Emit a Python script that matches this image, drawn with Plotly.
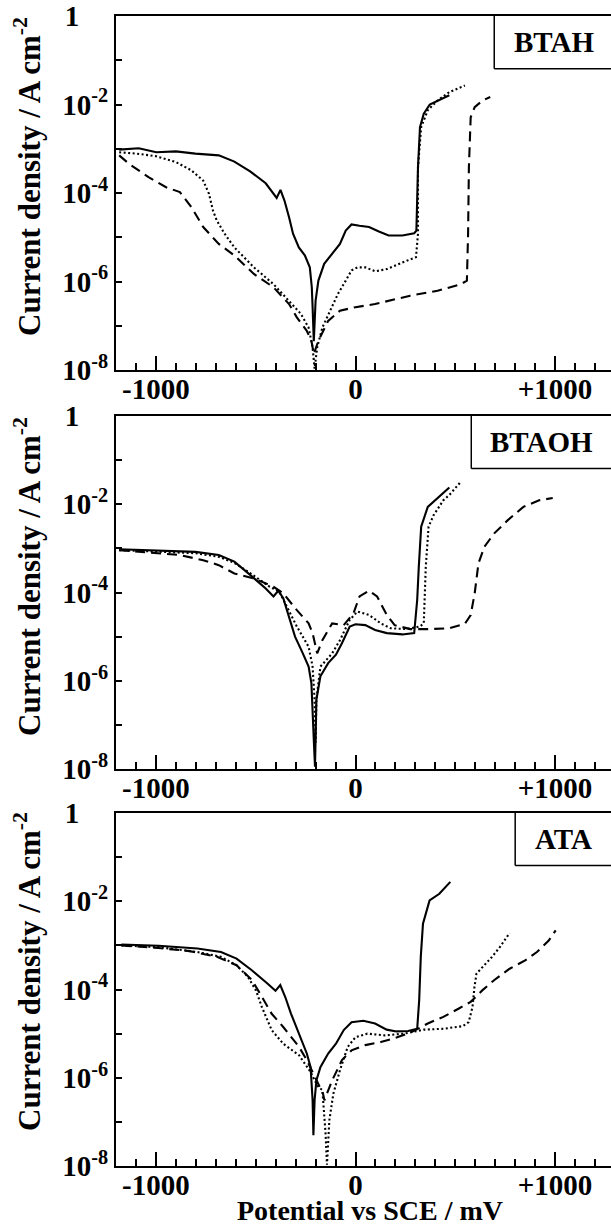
import plotly.graph_objects as go

# ---------------- data (potential in mV vs SCE, log10 of current density in A cm^-2) -------------
# Panel 1 : BTAH
btah_solid_mv = [-1184, -1086, -998, -900, -802, -685, -607, -528, -450, -411, -395, -376, -356, -333, -313,
                 -284, -254, -229, -219, -215, -209, -200, -186, -157, -117, -78, -49, -20, 20, 68, 117, 166,
                 235, 294, 305, 313, 323, 342, 372, 411, 470]
btah_solid_log = [-3.02, -2.99, -3.08, -3.06, -3.11, -3.15, -3.29, -3.51, -3.78, -4.00, -4.11, -3.93, -4.17, -4.55,
                  -4.92, -5.23, -5.41, -5.68, -6.13, -6.58, -7.35, -6.43, -5.98, -5.60, -5.38, -5.15, -4.85, -4.71,
                  -4.74, -4.77, -4.87, -4.96, -4.96, -4.91, -4.85, -3.42, -2.51, -2.21, -2.00, -1.91, -1.79]
btah_dot_mv = [-1184, -1096, -998, -900, -822, -763, -734, -714, -695, -656, -607, -509, -411, -333, -274, -235,
               -215, -205, -192, -166, -127, -88, -49, -20, 10, 49, 98, 157, 235, 303, 313, 313, 329, 362, 411,
               470, 548]
btah_dot_log = [-3.08, -3.11, -3.17, -3.30, -3.49, -3.72, -4.02, -4.40, -4.62, -4.92, -5.23, -5.68, -6.06, -6.43,
                -6.73, -7.04, -7.49, -7.97, -7.49, -7.04, -6.66, -6.28, -5.98, -5.75, -5.68, -5.68, -5.77, -5.72,
                -5.57, -5.45, -4.92, -3.42, -2.51, -2.13, -1.91, -1.72, -1.57]
btah_dash_mv = [-1184, -1135, -1037, -949, -880, -822, -763, -685, -607, -509, -411, -333, -294, -245, -221, -209,
                -186, -137, -78, 0, 98, 274, 411, 528, 558, 564, 568, 577, 597, 636, 675]
btah_dash_log = [-3.15, -3.34, -3.64, -3.87, -3.98, -4.32, -4.77, -5.15, -5.41, -5.83, -6.13, -6.51, -6.81, -7.11,
                 -7.34, -7.64, -7.34, -6.89, -6.66, -6.58, -6.51, -6.32, -6.21, -6.06, -5.98, -4.92, -3.42, -2.29,
                 -2.06, -1.91, -1.83]

# Panel 2 : BTAOH
btaoh_solid_mv = [-1184, -998, -802, -685, -607, -528, -450, -411, -387, -362, -333, -303, -264, -235, -221, -215,
                  -207, -203, -196, -176, -137, -98, -68, -29, 0, 49, 98, 157, 235, 294, 309, 317, 329, 362, 411,
                  470]
btaoh_solid_log = [-3.02, -3.05, -3.08, -3.15, -3.30, -3.60, -3.91, -4.09, -3.96, -4.13, -4.55, -5.00, -5.38, -5.68,
                   -6.06, -6.89, -7.55, -7.95, -6.43, -5.90, -5.60, -5.41, -5.15, -4.77, -4.72, -4.74, -4.85, -4.92,
                   -4.95, -4.92, -4.17, -3.42, -2.51, -2.06, -1.87, -1.62]
btaoh_dot_mv = [-1184, -998, -802, -685, -607, -528, -430, -382, -352, -294, -235, -215, -205, -200, -196, -176,
                -117, -78, -29, 10, 68, 127, 176, 254, 323, 342, 352, 366, 391, 440, 470, 528]
btaoh_dot_log = [-3.04, -3.07, -3.11, -3.19, -3.33, -3.56, -3.87, -3.98, -4.25, -4.77, -5.23, -5.68, -6.43, -7.40,
                 -6.43, -5.68, -5.38, -5.08, -4.62, -4.43, -4.51, -4.70, -4.81, -4.83, -4.77, -4.70, -3.42, -2.51,
                 -2.25, -1.91, -1.79, -1.49]
btaoh_dash_mv = [-1184, -998, -880, -763, -685, -607, -509, -411, -362, -294, -235, -215, -192, -166, -117, -59,
                 -10, 20, 68, 108, 157, 196, 274, 372, 470, 548, 577, 597, 616, 646, 695, 763, 841, 920, 988]
btaoh_dash_log = [-3.04, -3.11, -3.15, -3.27, -3.38, -3.57, -3.68, -3.87, -4.02, -4.40, -4.70, -4.92, -5.38, -5.08,
                  -4.70, -4.74, -4.47, -4.09, -3.96, -4.09, -4.51, -4.74, -4.83, -4.83, -4.81, -4.71, -4.51, -4.02,
                  -3.34, -2.96, -2.66, -2.36, -2.06, -1.91, -1.86]

# Panel 3 : ATA
ata_solid_mv = [-1173, -987, -792, -674, -596, -518, -440, -401, -377, -352, -323, -283, -244, -225, -215, -211,
                -205, -196, -176, -137, -98, -59, -20, 39, 98, 156, 205, 264, 309, 319, 327, 338, 371, 420, 475]
ata_solid_log = [-2.98, -3.01, -3.07, -3.15, -3.30, -3.57, -3.87, -4.03, -3.90, -4.17, -4.55, -5.00, -5.45, -5.76,
                 -6.51, -7.30, -6.51, -6.06, -5.76, -5.45, -5.23, -4.92, -4.74, -4.71, -4.77, -4.91, -4.95, -4.94,
                 -4.89, -4.24, -3.26, -2.51, -1.98, -1.83, -1.56]
ata_dot_mv = [-1173, -987, -792, -674, -596, -538, -499, -469, -420, -362, -283, -225, -205, -186, -166, -150,
              -143, -131, -111, -78, -39, 0, 59, 147, 244, 342, 440, 538, 567, 586, 596, 606, 645, 684, 723, 772]
ata_dot_log = [-3.00, -3.04, -3.15, -3.26, -3.45, -3.72, -4.02, -4.40, -4.92, -5.23, -5.49, -5.87, -6.06, -6.21,
               -6.28, -7.27, -7.97, -6.96, -6.36, -5.83, -5.30, -5.08, -5.00, -5.04, -5.00, -4.91, -4.89, -4.83,
               -4.74, -4.40, -3.94, -3.64, -3.45, -3.26, -3.04, -2.72]
ata_dash_mv = [-1173, -987, -831, -694, -596, -518, -479, -420, -362, -283, -244, -205, -176, -163, -156, -143,
               -117, -68, -20, 49, 127, 205, 283, 362, 440, 518, 577, 635, 694, 772, 850, 909, 968, 1003]
ata_dash_log = [-3.00, -3.06, -3.13, -3.26, -3.45, -3.79, -4.09, -4.55, -4.85, -5.30, -5.60, -5.98, -6.25, -6.36,
                -6.51, -6.36, -6.06, -5.60, -5.38, -5.26, -5.19, -5.09, -4.96, -4.77, -4.62, -4.43, -4.28, -4.02,
                -3.79, -3.53, -3.34, -3.15, -2.89, -2.66]

panel_names = ["BTAH", "BTAOH", "ATA"]
x_tick_vals = [-1000, 0, 1000]
x_tick_text = ["-1000", "0", "+1000"]
y_tick_vals = [1, 1e-2, 1e-4, 1e-6, 1e-8]
y_tick_text = ["1\u00a0\u00a0\u00a0\u00a0", "10<sup>-2</sup>", "10<sup>-4</sup>", "10<sup>-6</sup>", "10<sup>-8</sup>"]
y_minor_vals = [1e-1, 1e-3, 1e-5, 1e-7]

panels = [
    [(btah_solid_mv, btah_solid_log), (btah_dot_mv, btah_dot_log), (btah_dash_mv, btah_dash_log)],
    [(btaoh_solid_mv, btaoh_solid_log), (btaoh_dot_mv, btaoh_dot_log), (btaoh_dash_mv, btaoh_dash_log)],
    [(ata_solid_mv, ata_solid_log), (ata_dot_mv, ata_dot_log), (ata_dash_mv, ata_dash_log)],
]

# ---------------- figure -----------------
FONT = "Liberation Serif"
W, H = 611, 1225
ML, MR, MT, MB = 116, 0, 16, 59
ph = H - MT - MB
pw = W - ML - MR
panel_px = [(16, 370), (416, 769), (813, 1166)]   # top, bottom pixel rows
domains = [[(1166 - b) / ph, (1166 - t) / ph] for t, b in panel_px]

dashes = ["solid", "2px,2.5px", "10px,6px"]

fig = go.Figure()
for i, series in enumerate(panels):
    xa = "x" if i == 0 else f"x{i+1}"
    ya = "y" if i == 0 else f"y{i+1}"
    for (mv, lg), dash in zip(series, dashes):
        fig.add_trace(go.Scatter(
            x=mv, y=[10 ** v for v in lg], mode="lines", xaxis=xa, yaxis=ya,
            line=dict(color="black", width=2.1, dash=dash), showlegend=False, hoverinfo="skip"))

axis_font_x = dict(family=FONT, size=29, color="black", weight="bold")
axis_font_y = dict(family=FONT, size=29, color="black", weight="bold")

box_left = [695, 580, 800]
label_x = [995, 930, 1040]
yt_centers = [177, 577, 972]
BOX_BOTTOM = 0.851

for i in range(3):
    sx = "" if i == 0 else str(i + 1)
    fig.layout[f"xaxis{sx}"] = dict(
        domain=[0, 1], range=[-1200, 1280], anchor=f"y{sx}",
        showline=True, linewidth=2, linecolor="black", mirror=True,
        ticks="inside", ticklen=14, tickwidth=2, tickcolor="black",
        tickmode="array", tickvals=x_tick_vals, ticktext=x_tick_text,
        tickfont=axis_font_x, showgrid=False, zeroline=False, ticklabelstandoff=-8,
        minor=dict(tickmode="linear", tick0=0, dtick=100, ticks="inside", ticklen=7,
                   tickwidth=1.5, tickcolor="black", showgrid=False),
    )
    fig.layout[f"yaxis{sx}"] = dict(
        domain=domains[i], type="log", range=[-8, 0], anchor=f"x{sx}",
        showline=True, linewidth=2, linecolor="black", mirror=False,
        ticks="inside", ticklen=6, tickwidth=1.5, tickcolor="black",
        tickmode="array", tickvals=y_tick_vals, ticktext=y_tick_text,
        tickfont=axis_font_y, showgrid=False, zeroline=False,
        minor=dict(tickmode="array", tickvals=y_minor_vals, ticks="inside", ticklen=6,
                   tickwidth=1.5, tickcolor="black", showgrid=False),
    )
    # label box in the upper right corner (open to the right, as the figure is cropped there)
    fig.add_shape(type="line", xref=f"x{sx}", yref=f"y{sx} domain",
                  x0=box_left[i], x1=box_left[i], y0=BOX_BOTTOM, y1=1.0,
                  line=dict(color="black", width=1.5))
    fig.add_shape(type="line", xref=f"x{sx}", yref=f"y{sx} domain",
                  x0=box_left[i], x1=1280, y0=BOX_BOTTOM, y1=BOX_BOTTOM,
                  line=dict(color="black", width=1.5))
    fig.add_annotation(xref=f"x{sx}", yref=f"y{sx} domain", x=label_x[i], y=0.926,
                       xanchor="center", yanchor="middle",
                       text=panel_names[i], showarrow=False,
                       font=dict(family=FONT, size=29, color="black", weight="bold"))
    # y axis title
    fig.add_annotation(xref="paper", yref="paper", x=(27 - ML) / pw, y=(1166 - yt_centers[i]) / ph,
                       xanchor="center", yanchor="middle", textangle=-90, showarrow=False,
                       text="Current density / A cm<sup>-2</sup>",
                       font=dict(family=FONT, size=31, color="black", weight="bold"))

fig.add_annotation(xref="paper", yref="paper", x=(370 - ML) / pw, y=(1166 - 1210) / ph,
                   xanchor="center", yanchor="middle", showarrow=False,
                   text="Potential vs SCE / mV",
                   font=dict(family=FONT, size=28, color="black", weight="bold"))

fig.update_layout(width=W, height=H, margin=dict(l=ML, r=MR, t=MT, b=MB),
                  paper_bgcolor="white", plot_bgcolor="white",
                  font=dict(family=FONT, color="black"))

fig.write_html("out.html", config={"displayModeBar": False},
               post_script="document.body.style.margin='0';document.body.style.overflow='hidden';")
